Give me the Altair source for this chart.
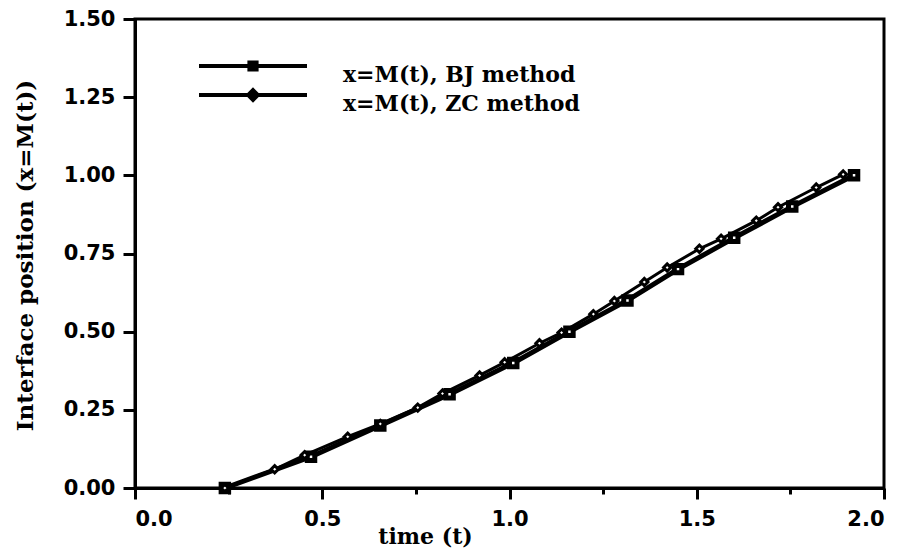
import altair as alt
import pandas as pd

# ---- data ----
series_names = ["x=M(t), BJ method", "x=M(t), ZC method"]

bj_t = [0.24, 0.47, 0.655, 0.84, 1.01, 1.16, 1.315, 1.45, 1.60, 1.755, 1.92]
bj_x = [0.0, 0.1, 0.2, 0.3, 0.4, 0.5, 0.6, 0.7, 0.8, 0.9, 1.0]

zc_t = [0.24, 0.373, 0.453, 0.568, 0.655, 0.755, 0.821, 0.92, 0.987, 1.08, 1.139,
        1.224, 1.28, 1.36, 1.421, 1.507, 1.565, 1.659, 1.717, 1.819, 1.891]
zc_x = [0.0, 0.06, 0.105, 0.164, 0.205, 0.257, 0.302, 0.36, 0.402, 0.463, 0.497,
        0.556, 0.598, 0.659, 0.705, 0.765, 0.797, 0.855, 0.898, 0.961, 1.003]

x_ticks = [0.0, 0.25, 0.5, 0.75, 1.0, 1.25, 1.5, 1.75, 2.0]
y_ticks = [0.0, 0.125, 0.25, 0.375, 0.5, 0.625, 0.75, 0.875, 1.0, 1.125, 1.25, 1.375, 1.5]

df = pd.concat([
    pd.DataFrame({"series": series_names[0], "t": bj_t, "x": bj_x}),
    pd.DataFrame({"series": series_names[1], "t": zc_t, "x": zc_x}),
], ignore_index=True)

SERIF = "DejaVu Serif"
SANS = "DejaVu Sans"

x_major = "abs(datum.value*2 - round(datum.value*2)) < 0.001"
y_major = "abs(datum.value*4 - round(datum.value*4)) < 0.001"

x_enc = alt.X(
    "t:Q",
    scale=alt.Scale(domain=[0, 2], nice=False, zero=False),
    axis=alt.Axis(
        values=x_ticks,
        labelExpr=f"{x_major} ? format(datum.value, '.1f') : ''",
        labelOverlap=False,
        tickSize={"condition": {"test": x_major, "value": 11}, "value": 6},
        title="time (t)",
        titleX=290,
        titleY=55,
        titleFontSize=22,
        titleAlign="center",
        titleBaseline="alphabetic",
        labelPadding=9,
    ),
)
y_enc = alt.Y(
    "x:Q",
    scale=alt.Scale(domain=[0, 1.5], nice=False, zero=False),
    axis=alt.Axis(
        values=y_ticks,
        labelExpr=f"{y_major} ? format(datum.value, '.2f') : ''",
        labelOverlap=False,
        tickSize={"condition": {"test": y_major, "value": 12}, "value": 6},
        title="Interface position (x=M(t))",
        titleFontSize=23,
        titleX=-103,
        titleY=236,
        titleAngle=-90,
        titleAlign="center",
        titleBaseline="alphabetic",
        labelPadding=8,
    ),
)

# legend glyphs: a line segment with the marker in its middle (raised a little)
legend_paths = [
    "M-9,-1.5H9M-0.6,-2.1H0.6V-0.9H-0.6Z",
    "M-9,-1.5H9M0,-2.3L0.8,-1.5L0,-0.7L-0.8,-1.5Z",
]

lines = alt.Chart(df).mark_line(color="black").encode(
    x=x_enc,
    y=y_enc,
    strokeWidth=alt.StrokeWidth(
        "series:N",
        scale=alt.Scale(domain=series_names, range=[5, 3]),
        legend=None,
    ),
    detail="series:N",
)

points = alt.Chart(df).mark_point(
    filled=True, fill="white", stroke="black", opacity=1
).encode(
    x=alt.X("t:Q"),
    y=alt.Y("x:Q"),
    shape=alt.Shape(
        "series:N",
        scale=alt.Scale(domain=series_names, range=["square", "diamond"]),
        legend=None,
    ),
    size=alt.Size(
        "series:N",
        scale=alt.Scale(domain=series_names, range=[56, 52]),
        legend=None,
    ),
    strokeWidth=alt.StrokeWidth(
        "series:N",
        scale=alt.Scale(domain=series_names, range=[5.5, 4]),
        legend=None,
    ),
)

legend_layer = alt.Chart(df).mark_point(opacity=0, size=144).encode(
    x=alt.X("t:Q"),
    y=alt.Y("x:Q"),
    shape=alt.Shape(
        "series:N",
        scale=alt.Scale(domain=series_names, range=legend_paths),
        legend=alt.Legend(
            title=None,
            orient="none",
            legendX=107,
            legendY=45,
            padding=0,
            symbolSize=144,
            symbolFillColor="white",
            symbolStrokeColor="black",
            symbolStrokeWidth=4,
            symbolOpacity=1,
            labelFont=SERIF,
            labelFontWeight="bold",
            labelFontSize=22,
            labelColor="black",
            labelOffset=79,
            labelLimit=400,
            rowPadding=-4,
        ),
    ),
)

chart = (
    alt.layer(lines, points, legend_layer)
    .resolve_scale(shape="independent")
    .properties(
        width=749,
        height=469,
        autosize=alt.AutoSizeParams(type="none"),
        padding={"left": 127, "top": 11, "right": 16, "bottom": 65},
        background="white",
    )
    .configure_view(stroke="black", strokeWidth=3)
    .configure_axis(
        grid=False,
        domainColor="black",
        domainWidth=3,
        tickColor="black",
        tickWidth=3,
        labelFont=SANS,
        labelFontWeight="bold",
        labelFontSize=21,
        labelColor="black",
        titleFont=SERIF,
        titleFontWeight="bold",
        titleColor="black",
    )
)

chart.save("out.html", embed_options={"renderer": "svg", "actions": False})
